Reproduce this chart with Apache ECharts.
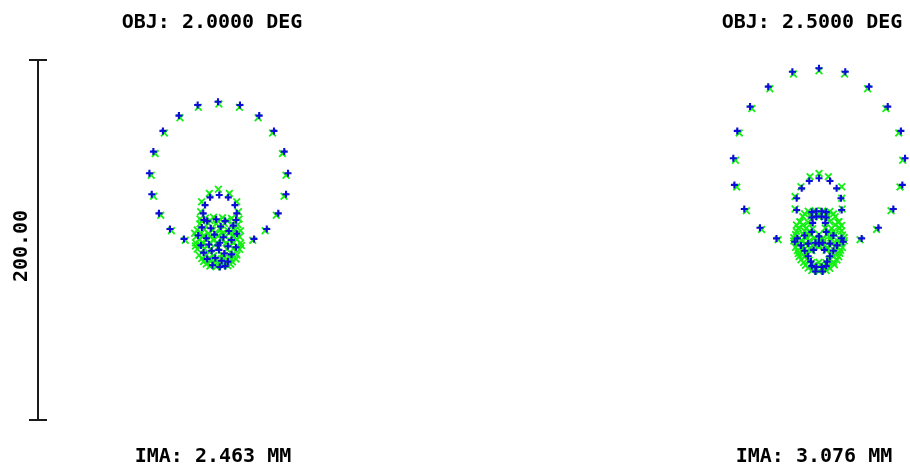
<!DOCTYPE html>
<html>
<head>
<meta charset="utf-8">
<script src="https://cdn.jsdelivr.net/npm/echarts@6/dist/echarts.min.js"></script>
<style>
  html, body { margin: 0; padding: 0; background: #fff; }
  #chart { width: 910px; height: 472px; }
</style>
</head>
<body>
<div id="chart"></div>
<script>
// Spot diagram, two field points. Coordinates in micrometres on the image plane.
const fieldTitles = ['OBJ: 2.0000 DEG', 'OBJ: 2.5000 DEG'];
const imageHeights = ['IMA: 2.463 MM', 'IMA: 3.076 MM'];
const scaleLabel = '200.00';
const SCALE_UM = 200;

// Field 1 (2.0 deg) — wavelength 1 (blue) and wavelength 2 (green)
const f1Blue = [
  // outer pupil zone
  [0,76.8],[12.2,75],[22.9,69.1],[31.1,60.6],[36.8,49.1],[38.9,37.1],[37.8,25.4],[33.5,14.8],[27.1,6.1],[20,0.6],
  [-11.3,75],[-21.7,69.1],[-30.6,60.6],[-35.9,49.1],[-38.1,37.1],[-36.8,25.4],[-32.8,14.8],[-26.7,6.1],[-18.9,0.6],[0,-3],
  // middle zone
  [0.7,25],[-4.4,23.7],[5.7,23.7],[-7.2,19.4],[9.4,19.4],[-8.2,14.8],[10.4,14.8],[-7.8,11.1],[10,11.1],
  // inner zones
  [-6,10.5],[-1,11.5],[4,10.5],[8.5,8],[-9,7],[-4,6.5],[1.5,7.5],[6,5],[10.5,3.5],[-11,2.5],[-6.5,1],[-2,3],
  [3,1.5],[7.5,0],[-9.5,-3],[-5,-2.5],[1,-1.5],[5.5,-3.5],[10,-4],[-8,-7],[-3.5,-6],[3.5,-7.5],[7.5,-8],
  [-6,-10.5],[-1.5,-10],[2,-11.5],[5.5,-12],[-3,-14],[1,-15],[4,-14.5],[0.5,-5.5]
];
const f1Green = [
  [0.5,75.6],[11.9,73.8],[22.3,67.9],[30.3,59.4],[35.8,48],[37.8,36],[36.7,24.3],[32.4,13.8],[26.2,5.2],[19.3,-0.2],
  [-10.9,73.8],[-21.1,67.9],[-29.8,59.4],[-34.9,48],[-37.1,36],[-35.8,24.3],[-31.8,13.8],[-25.9,5.2],[-18.2,-0.2],[0,-4],
  [-4.8,25.9],[0.2,28.2],[6.3,25.9],[-9.1,21.3],[10.4,21.3],[-9.6,15.7],[11.3,15.7],[-10,11.7],[11.7,11.7],
  [-7,12.2],[-2.5,12.6],[2.5,12.4],[7.5,12],
  [-9,10.7],[-4.5,10.9],[0,10.6],[5,10.8],[9.5,10.3],
  [-10,9],[-5.5,9.3],[-1,9.1],[3.5,9.2],[8,8.8],[11,8.6],
  [-11.5,5.5],[-7.5,5.8],[-3,5.4],[1.5,5.7],[5.5,5.3],[9.5,5.6],[12.5,5.2],
  [-13,3.8],[-9.5,3.9],[-5.5,3.6],[-1.5,4],[2.5,3.7],[6.5,4.1],[10.5,3.6],
  [-12,2],[-8,2.3],[-4,1.8],[0,2.2],[4,1.9],[8,2.1],[12,1.8],
  [-10.5,0.2],[-6.5,0.4],[-2.5,-0.1],[2,0.3],[6.5,0],[10.5,0.3],
  [-12.5,-1.5],[-8.5,-1.2],[-4.5,-1.7],[-0.5,-1.4],[4.5,-1.6],[8.5,-1.3],[12.5,-1.7],
  [-12.5,-3.3],[-9.5,-3.1],[-6,-3.4],[7,-3.2],[10.5,-3.5],[13,-3.1],
  [-11.5,-5],[-7.5,-4.8],[-4,-5.2],[5,-5.1],[8.5,-4.9],[12,-5.2],
  [-10.5,-8.5],[-6.5,-8.3],[-2.5,-8.7],[2.5,-8.4],[6.5,-8.6],[10.5,-8.3],
  [-9,-10.3],[-5,-10.1],[-1,-10.4],[3,-10.2],[7,-10],[10,-10.5],
  [-8,-12],[-4,-11.8],[0,-12.2],[4,-11.9],[8,-12.1],
  [-6.5,-13.3],[-2.5,-13],[1.5,-13.4],[4.5,-13.1],[7,-13.5],
  [-4.5,-14.5],[-1,-14.8],[2.5,-14.6],[5.5,-14.3]
];

// Field 2 (2.5 deg)
const f2Blue = [
  [0,95.4],[14.6,93.5],[-14.8,93.5],[27.8,85.2],[-28.2,85.2],[38.2,74.1],[-38.3,74.1],[45.5,60.6],[-45.4,60.6],
  [47.8,45.4],[-47.6,45.4],[46.3,30.6],[-47,30.6],[41.3,17.2],[-41.5,17.2],[33,6.8],[-32.8,6.8],[23.7,0.9],[-23.6,0.9],[0,-2],
  [0,34.3],[-5.4,32.8],[6.1,32.8],[-9.6,28.7],[9.8,28.7],[-12.4,23.2],[12.2,23.2],[-12.4,16.7],[12.6,16.7],
  [-4,15.5],[-1.5,16],[1.5,16],[4,15.5],[-4,12.5],[-1.5,13],[1.5,13],[4,12.5],[-3.5,9.5],[3.5,9.5],
  [-12,1],[-8,2.5],[-4,4.5],[0,2],[4,4.5],[8,2.5],[12.5,1],[-13.5,-1],[13.5,-1],[-10,-3],[-6,-2],[-2,-1.5],
  [2,-1.5],[6,-2],[10,-3],[-8,-6],[-3,-5.5],[3,-5.5],[8,-6],
  [-4.5,-12],[4.5,-12],[-4,-14.5],[-1.5,-15],[1.5,-15],[4,-14.5],[-2,-17.5],[2,-17.5],[-6,-9],[6,-9]
];
const f2Green = [
  [0,94],[14.2,92.2],[-14.2,92.2],[27,84],[-27.3,84],[37.2,73],[-37.3,73],[44.3,59.5],[-44.3,59.5],
  [46.5,44.3],[-46.4,44.3],[45,29.5],[-45.7,29.5],[40,16.2],[-40.3,16.2],[32,5.9],[-31.9,5.9],[22.8,0.2],[-22.7,0.2],[0,-3],
  [0,37],[-5,35.2],[5.2,35.2],[-10,29.6],[12.6,29.6],[-13.3,24.1],[12.6,23.2],[-13.3,17.2],[12.9,17.2],[-10.6,10.2],[11.1,10.2],
  [-6,16],[-2,16.3],[2,16.1],[6,15.8],
  [-8,14.6],[-4,14.8],[0,14.4],[4,14.7],[8,14.5],
  [-9,13],[-4.5,13.2],[0,12.8],[4.5,13.1],[9,12.9],
  [-10.5,10],[-6,9.8],[6,10.1],[10.5,9.9],
  [-12.5,8.3],[-9,8.2],[9,8.4],[12.5,8.1],
  [-11.5,6.5],[-7,6.7],[-3.5,6.3],[3.5,6.6],[7,6.4],[11.5,6.6],
  [-12.5,4.8],[-8,5],[-5.5,4.6],[5.5,4.9],[8,4.7],[12.5,5],
  [-13,3],[-9,3.2],[-4.5,2.8],[0,3.1],[4.5,2.9],[9,3.2],[13,2.8],
  [-14,1.3],[-11,1.1],[-7,1.4],[-2.5,1.2],[2,1],[6.5,1.3],[11,1.1],[14,1.4],
  [-14,-0.5],[-10,-0.3],[-5.5,-0.7],[-1.5,-0.4],[2.5,-0.6],[6.5,-0.3],[10.5,-0.7],[14,-0.4],
  [-12,-2.2],[-7.5,-2],[-3,-2.3],[2,-2.1],[7.5,-2.4],[12,-2],
  [-13,-4],[-9,-3.8],[-4.5,-4.2],[0,-3.9],[4.5,-4.1],[9,-3.8],[13,-4.2],
  [-12,-5.8],[-8.5,-5.6],[-4,-5.9],[4,-5.7],[8.5,-6],[12,-5.7],
  [-11.5,-7.5],[-7,-7.3],[7,-7.6],[11.5,-7.4],
  [-11,-9.2],[-8,-9.4],[8,-9.1],[11,-9.3],
  [-10,-11],[-5.5,-11.2],[5.5,-10.8],[10,-11.1],
  [-8.5,-12.5],[-4,-12.7],[0,-12.4],[4,-12.6],[8,-12.3],
  [-7.5,-14],[-3,-14.2],[1,-13.9],[5,-14.1],[8.5,-13.8],
  [-6,-15.6],[-2,-15.8],[2,-15.5],[6,-15.7],
  [-4,-17],[0,-17.3],[4,-16.9]
];

// Scale bar spanning SCALE_UM on the image plane, with end caps
const barX = -100, capHalf = 5;
const scaleBar = [
  [barX - capHalf, -SCALE_UM / 2], [barX + capHalf, -SCALE_UM / 2], [barX, -SCALE_UM / 2],
  [barX, SCALE_UM / 2], [barX - capHalf, SCALE_UM / 2], [barX + capHalf, SCALE_UM / 2]
];

const PLUS = 'path://M3.5,0h3v3.5h3.5v3h-3.5v3.5h-3v-3.5h-3.5v-3h3.5z';
const CROSS = 'path://M0,1.6L1.6,0L5,3.4L8.4,0L10,1.6L6.6,5L10,8.4L8.4,10L5,6.6L1.6,10L0,8.4L3.4,5Z';
const BLUE = '#0c0cd8';
const GREEN = '#14f014';
const FONT = 'DejaVu Sans Mono';

// 1 µm = 1.8 px on both panels
const PX = 1.8;
const yMin = -100, yMax = 110;

function spots(gridIndex, data, isBlue) {
  return {
    type: 'scatter',
    xAxisIndex: gridIndex, yAxisIndex: gridIndex,
    data: data,
    symbol: isBlue ? PLUS : CROSS,
    symbolSize: isBlue ? 7 : 8,
    itemStyle: { color: isBlue ? BLUE : GREEN, opacity: 1 },
    z: isBlue ? 3 : 2,
    clip: false,
    silent: true
  };
}

function label(text, x, y, rot) {
  return {
    type: 'text', x: x, y: y, rotation: rot || 0,
    style: { text: text, font: 'bold 20px "' + FONT + '"', fill: '#000', textAlign: 'center', textVerticalAlign: 'middle' }
  };
}

const chart = echarts.init(document.getElementById('chart'), null, { renderer: 'canvas' });
chart.setOption({
  animation: false,
  backgroundColor: '#ffffff',
  grid: [
    { left: 218 - 105 * PX, top: 240 - yMax * PX, width: 165 * PX, height: (yMax - yMin) * PX },
    { left: 819 - 60 * PX, top: 240 - yMax * PX, width: 110 * PX, height: (yMax - yMin) * PX }
  ],
  xAxis: [
    { type: 'value', gridIndex: 0, min: -105, max: 60, show: false },
    { type: 'value', gridIndex: 1, min: -60, max: 50, show: false }
  ],
  yAxis: [
    { type: 'value', gridIndex: 0, min: yMin, max: yMax, show: false },
    { type: 'value', gridIndex: 1, min: yMin, max: yMax, show: false }
  ],
  series: [
    spots(0, f1Green, false),
    spots(0, f1Blue, true),
    spots(1, f2Green, false),
    spots(1, f2Blue, true),
    {
      type: 'line', xAxisIndex: 0, yAxisIndex: 0,
      data: scaleBar, showSymbol: false, silent: true,
      lineStyle: { color: '#1a1a1a', width: 2 }, clip: false
    }
  ],
  graphic: [
    label(fieldTitles[0], 212, 23),
    label(fieldTitles[1], 812, 23),
    label(imageHeights[0], 213, 457),
    label(imageHeights[1], 814, 457),
    label(scaleLabel, 22, 246, Math.PI / 2)
  ]
});
</script>
</body>
</html>
